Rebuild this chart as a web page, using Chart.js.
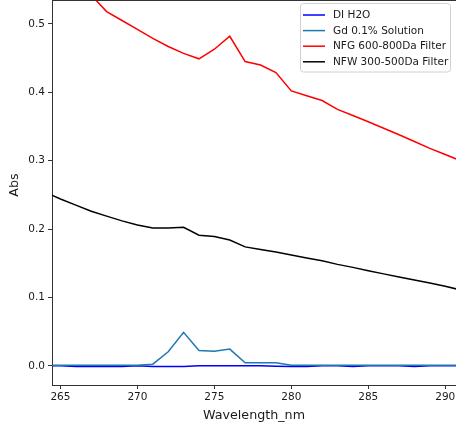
<!DOCTYPE html>
<html>
<head>
<meta charset="utf-8">
<script src="https://cdn.jsdelivr.net/npm/chart.js@4/dist/chart.umd.min.js"></script>
<style>
  html, body { margin: 0; padding: 0; background: #fff; overflow: hidden; }
  canvas { display: block; }
</style>
</head>
<body>
<canvas id="c" width="456" height="427"></canvas>
<script>
// ---- data ----
const wavelengths = [264,265,266,267,268,269,270,271,272,273,274,275,276,277,278,279,280,281,282,283,284,285,286,287,288,289,290,291];
const diH2O = [0,0,-0.001,-0.001,-0.001,-0.001,0,-0.001,-0.001,-0.001,0,0,0,0,0,-0.0005,-0.001,-0.001,0,0,-0.001,0,0,0,-0.001,0,0,0];
const gdSolution = [0.001,0.001,0.001,0.001,0.001,0.001,0.001,0.0025,0.0205,0.049,0.0225,0.0215,0.0245,0.0045,0.0045,0.0045,0.001,0.001,0.001,0.001,0.001,0.001,0.001,0.001,0.001,0.001,0.001,0.001];
const nfgFilter = [0.63,0.60,0.572,0.542,0.518,0.505,0.492,0.479,0.467,0.457,0.449,0.463,0.482,0.445,0.440,0.429,0.402,0.395,0.388,0.375,0.366,0.357,0.3475,0.338,0.328,0.318,0.309,0.300];
const nfwFilter = [0.254,0.244,0.235,0.226,0.219,0.212,0.206,0.2015,0.2015,0.2025,0.191,0.189,0.184,0.174,0.170,0.1665,0.162,0.1576,0.1537,0.1484,0.144,0.139,0.1345,0.130,0.1255,0.121,0.1163,0.111];
const seriesLabels = ['DI H2O','Gd 0.1% Solution','NFG 600-800Da Filter','NFW 300-500Da Filter'];
const xTicks = [265,270,275,280,285,290];
const yTicks = [0.0,0.1,0.2,0.3,0.4,0.5];
const xLabel = 'Wavelength_nm';
const yLabel = 'Abs';

// ---- styles ----
const colors = ['#0000ff','#1f77b4','#ff0000','#000000'];
const FONT = 'DejaVu Sans';
const TXT = '#1a1a1a';
const AX = '#333333';

const seriesValues = [diH2O, gdSolution, nfgFilter, nfwFilter];
const datasets = seriesValues.map((vals, i) => ({
  label: seriesLabels[i],
  data: wavelengths.map((w, j) => ({x: w, y: vals[j]})),
  borderColor: colors[i],
  backgroundColor: colors[i],
  borderWidth: 1.5,
  pointRadius: 0,
  tension: 0,
  fill: false,
  clip: 0,
  order: seriesValues.length - i
}));

const extras = {
  id: 'extras',
  afterDraw(chart) {
    const ctx = chart.ctx;
    const a = chart.chartArea;
    ctx.save();
    // top spine
    ctx.strokeStyle = AX;
    ctx.lineWidth = 1;
    ctx.beginPath();
    ctx.moveTo(a.left, a.top + 0.5);
    ctx.lineTo(a.right, a.top + 0.5);
    ctx.stroke();
    // y axis title
    ctx.fillStyle = TXT;
    ctx.font = '12.7px "' + FONT + '"';
    ctx.textAlign = 'center';
    ctx.textBaseline = 'middle';
    ctx.translate(15, 185);
    ctx.rotate(-Math.PI / 2);
    ctx.fillText(yLabel, 0, 0);
    ctx.restore();

    // legend
    ctx.save();
    const bx = 300.5, by = 3.5, bw = 150, bh = 68.5;
    ctx.beginPath();
    ctx.roundRect(bx, by, bw, bh, 3);
    ctx.fillStyle = 'rgba(255,255,255,0.85)';
    ctx.fill();
    ctx.strokeStyle = '#d0d0d0';
    ctx.lineWidth = 1;
    ctx.stroke();
    ctx.font = '10.5px "' + FONT + '"';
    ctx.textAlign = 'left';
    ctx.textBaseline = 'middle';
    chart.data.datasets.forEach((ds, i) => {
      const y = 15 + i * 15.6;
      ctx.strokeStyle = ds.borderColor;
      ctx.lineWidth = 1.5;
      ctx.beginPath();
      ctx.moveTo(303, y);
      ctx.lineTo(325, y);
      ctx.stroke();
      ctx.fillStyle = TXT;
      ctx.fillText(ds.label, 333, y + 0.5);
    });
    ctx.restore();
  }
};

new Chart(document.getElementById('c'), {
  type: 'line',
  data: { datasets },
  options: {
    responsive: false,
    animation: false,
    devicePixelRatio: 1,
    layout: { padding: 0 },
    plugins: { legend: { display: false }, tooltip: { enabled: false } },
    scales: {
      x: {
        type: 'linear',
        min: 264.45,
        max: 290.7,
        afterBuildTicks(s) { s.ticks = xTicks.map(v => ({value: v})); },
        afterFit(s) { s.height = 42; s.paddingLeft = 0; s.paddingRight = 0; },
        grid: { drawOnChartArea: false, drawTicks: true, tickLength: 4, color: AX, lineWidth: 1 },
        border: { display: true, color: AX, width: 1 },
        ticks: { color: TXT, font: { family: FONT, size: 10.5 }, padding: 2, maxRotation: 0, autoSkip: false,
                 callback: v => String(v) },
        title: { display: true, text: xLabel, color: TXT, font: { family: FONT, size: 12.7 }, padding: { top: 0, bottom: 4 } }
      },
      y: {
        type: 'linear',
        min: -0.028,
        max: 0.535,
        afterBuildTicks(s) { s.ticks = yTicks.map(v => ({value: v})); },
        afterFit(s) { s.width = 52; s.paddingTop = 0; s.paddingBottom = 0; },
        grid: { drawOnChartArea: false, drawTicks: true, tickLength: 4, color: AX, lineWidth: 1 },
        border: { display: true, color: AX, width: 1 },
        ticks: { color: TXT, font: { family: FONT, size: 10.5 }, padding: 3,
                 callback: v => Number(v).toFixed(1) }
      }
    }
  },
  plugins: [extras]
});
</script>
</body>
</html>
